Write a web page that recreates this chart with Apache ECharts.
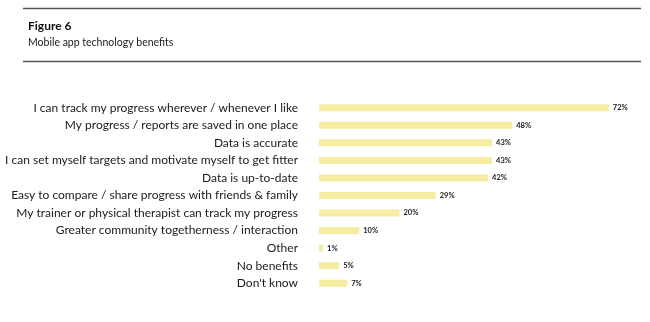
<!DOCTYPE html>
<html>
<head>
<meta charset="utf-8">
<style>
  html, body { margin: 0; padding: 0; background: #ffffff; }
  #chart { width: 650px; height: 322px; }
</style>
<script src="https://cdn.jsdelivr.net/npm/echarts@6/dist/echarts.min.js"></script>
</head>
<body>
<div id="chart"></div>
<script>
// Survey answers, top to bottom
const categories = [
  "I can track my progress wherever / whenever I like",
  "My progress / reports are saved in one place",
  "Data is accurate",
  "I can set myself targets and motivate myself to get fitter",
  "Data is up-to-date",
  "Easy to compare / share progress with friends & family",
  "My trainer or physical therapist can track my progress",
  "Greater community togetherness / interaction",
  "Other",
  "No benefits",
  "Don't know"
];
// Share of respondents, percent
const values = [72, 48, 43, 43, 42, 29, 20, 10, 1, 5, 7];

const FONT = "Lato, 'Noto Sans', sans-serif";
const chart = echarts.init(document.getElementById('chart'), null, { renderer: 'canvas' });

chart.setOption({
  animation: false,
  backgroundColor: '#ffffff',
  title: [
    {
      text: 'Figure 6',
      left: 23, top: 15,
      textStyle: { fontFamily: FONT, fontSize: 12, fontWeight: 'bold', color: '#111' }
    },
    {
      text: 'Mobile app technology benefits',
      left: 23, top: 32,
      textStyle: { fontFamily: FONT, fontSize: 10.5, fontWeight: 'normal', color: '#222' }
    }
  ],
  graphic: [
    { type: 'line', shape: { x1: 23, y1: 8.5, x2: 641, y2: 8.5 }, style: { stroke: '#555', lineWidth: 1.5 } },
    { type: 'line', shape: { x1: 23, y1: 61.5, x2: 641, y2: 61.5 }, style: { stroke: '#555', lineWidth: 1.5 } }
  ],
  grid: { left: 319, right: 9, top: 99, height: 193, containLabel: false },
  xAxis: {
    type: 'value', min: 0, max: 80,
    show: false
  },
  yAxis: {
    type: 'category',
    inverse: true,
    data: categories,
    axisLine: { show: false },
    axisTick: { show: false },
    axisLabel: {
      margin: 21,
      fontFamily: FONT, fontSize: 12, color: '#1a1a1a'
    }
  },
  series: [{
    type: 'bar',
    data: values,
    barWidth: 7,
    itemStyle: { color: '#f6eca2' },
    label: {
      show: true, position: 'right', distance: 4,
      formatter: '{c}%',
      fontFamily: FONT, fontSize: 7.5, fontWeight: 'bold', color: '#222'
    }
  }]
});
</script>
</body>
</html>
